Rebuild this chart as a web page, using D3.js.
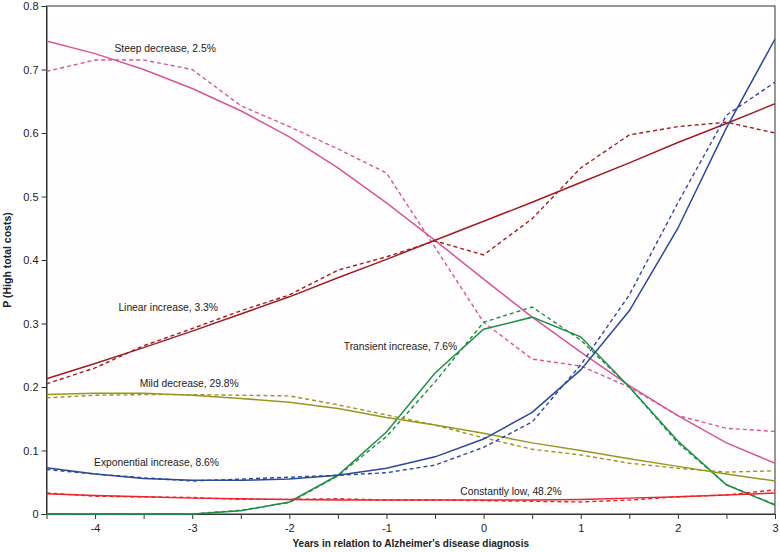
<!DOCTYPE html>
<html><head><meta charset="utf-8">
<script src="https://cdn.jsdelivr.net/npm/d3@7"></script>
<style>body{margin:0;background:#fff;}svg{display:block;font-family:Arial,"Liberation Sans",sans-serif;}</style>
</head><body>
<svg id="c" width="780" height="552"></svg>
<script>
const years = [-4.5,-4,-3.5,-3,-2.5,-2,-1.5,-1,-0.5,0,0.5,1,1.5,2,2.5,3];
const xTicks = [-4,-3,-2,-1,0,1,2,3];
const yTicks = [0,0.1,0.2,0.3,0.4,0.5,0.6,0.7,0.8];

const steepObs  = [0.697,0.715,0.715,0.700,0.643,0.610,0.575,0.537,0.420,0.302,0.244,0.233,0.200,0.155,0.135,0.130];
const steepFit  = [0.745,0.725,0.700,0.670,0.635,0.594,0.545,0.490,0.431,0.370,0.310,0.255,0.202,0.155,0.112,0.080];
const linObs    = [0.205,0.230,0.265,0.292,0.320,0.345,0.384,0.405,0.430,0.408,0.465,0.545,0.597,0.610,0.617,0.600];
const linFit    = [0.213,0.237,0.262,0.288,0.315,0.342,0.372,0.401,0.431,0.461,0.491,0.522,0.553,0.585,0.615,0.646];
const transObs  = [0,0,0,0,0.006,0.018,0.060,0.122,0.208,0.302,0.326,0.274,0.200,0.112,0.046,0.015];
const transFit  = [0,0,0,0,0.005,0.019,0.061,0.129,0.222,0.291,0.310,0.279,0.200,0.115,0.046,0.014];
const mildObs   = [0.183,0.187,0.188,0.188,0.187,0.186,0.172,0.156,0.140,0.120,0.102,0.093,0.080,0.072,0.066,0.068];
const mildFit   = [0.188,0.190,0.190,0.187,0.182,0.176,0.166,0.152,0.140,0.127,0.112,0.100,0.087,0.075,0.063,0.052];
const expObs    = [0.070,0.063,0.057,0.052,0.055,0.058,0.061,0.065,0.077,0.105,0.145,0.235,0.345,0.490,0.628,0.680];
const expFit    = [0.073,0.063,0.056,0.053,0.053,0.055,0.061,0.072,0.090,0.118,0.160,0.227,0.320,0.450,0.608,0.748];
const lowObs    = [0.033,0.028,0.027,0.026,0.023,0.023,0.024,0.022,0.022,0.021,0.020,0.019,0.022,0.027,0.030,0.038];
const lowFit    = [0.032,0.029,0.027,0.025,0.024,0.023,0.022,0.022,0.022,0.022,0.022,0.023,0.025,0.027,0.030,0.033];

const groups = [
  {name:"Steep decrease, 2.5%", color:"#d4579a", obs:steepObs, fit:steepFit, lx:-3.8, ly:0.728},
  {name:"Linear increase, 3.3%", color:"#a11d21", obs:linObs, fit:linFit, lx:-3.76, ly:0.320},
  {name:"Transient increase, 7.6%", color:"#1f8f45", obs:transObs, fit:transFit, lx:-1.44, ly:0.258},
  {name:"Mild decrease, 29.8%", color:"#9a9520", obs:mildObs, fit:mildFit, lx:-3.54, ly:0.200},
  {name:"Exponential increase, 8.6%", color:"#2a4a98", obs:expObs, fit:expFit, lx:-4.01, ly:0.076},
  {name:"Constantly low, 48.2%", color:"#e8262b", obs:lowObs, fit:lowFit, lx:-0.24, ly:0.030}
];

const svg = d3.select("#c");
const m = {l:46.5, r:5, t:6, b:38};
const W = 780, H = 552;
const x = d3.scaleLinear().domain([-4.5,3]).range([m.l, W-m.r]);
const y = d3.scaleLinear().domain([0,0.8]).range([H-m.b, m.t]);

svg.append("rect").attr("x",x(-4.5)).attr("y",y(0.8)).attr("width",x(3)-x(-4.5)).attr("height",y(0)-y(0.8))
  .attr("fill","#fffdfe").attr("stroke","#333").attr("stroke-width",1);

const xa = svg.append("g").attr("transform",`translate(0,${y(0)})`)
  .call(d3.axisBottom(x).tickValues(d3.range(-4,3.01,0.5)).tickSize(5).tickFormat(d => Number.isInteger(d) ? d : ""));
const ya = svg.append("g").attr("transform",`translate(${x(-4.5)},0)`)
  .call(d3.axisLeft(y).tickValues(yTicks).tickSize(5).tickFormat(d => d===0 ? "0" : d3.format(".1f")(d)));
[xa,ya].forEach(a=>{
  a.select(".domain").attr("stroke","#333");
  a.selectAll(".tick line").attr("stroke","#333");
  a.selectAll("text").attr("font-size",11).attr("fill","#222").attr("font-family","Arial, 'Liberation Sans', sans-serif");
});
xa.selectAll("text").attr("dy","0.9em");

const line = d3.line().x((d,i)=>x(years[i])).y(d=>y(d));
svg.append("clipPath").attr("id","cp").append("rect")
  .attr("x",x(-4.5)).attr("y",y(0.8)).attr("width",x(3)-x(-4.5)).attr("height",y(0)-y(0.8)+1);

const plot = svg.append("g").attr("clip-path","url(#cp)");
groups.forEach(g=>{
  plot.append("path").datum(g.obs).attr("d",line).attr("fill","none")
    .attr("stroke",g.color).attr("stroke-width",1.4).attr("stroke-dasharray","4,3");
  plot.append("path").datum(g.fit).attr("d",line).attr("fill","none")
    .attr("stroke",g.color).attr("stroke-width",1.5);
});
groups.forEach(g=>{
  svg.append("text").attr("x",x(g.lx)).attr("y",y(g.ly)).text(g.name)
    .attr("font-size",10.3).attr("fill","#222");
});

svg.append("text").attr("x",(x(-4.5)+x(3))/2).attr("y",547).attr("text-anchor","middle")
  .attr("font-size",10).attr("font-weight","bold").attr("fill","#222")
  .text("Years in relation to Alzheimer's disease diagnosis");
svg.append("text").attr("transform",`translate(11,${(y(0)+y(0.8))/2}) rotate(-90)`).attr("text-anchor","middle")
  .attr("font-size",10.5).attr("font-weight","bold").attr("fill","#222")
  .text("P (High total costs)");
</script>
</body></html>
